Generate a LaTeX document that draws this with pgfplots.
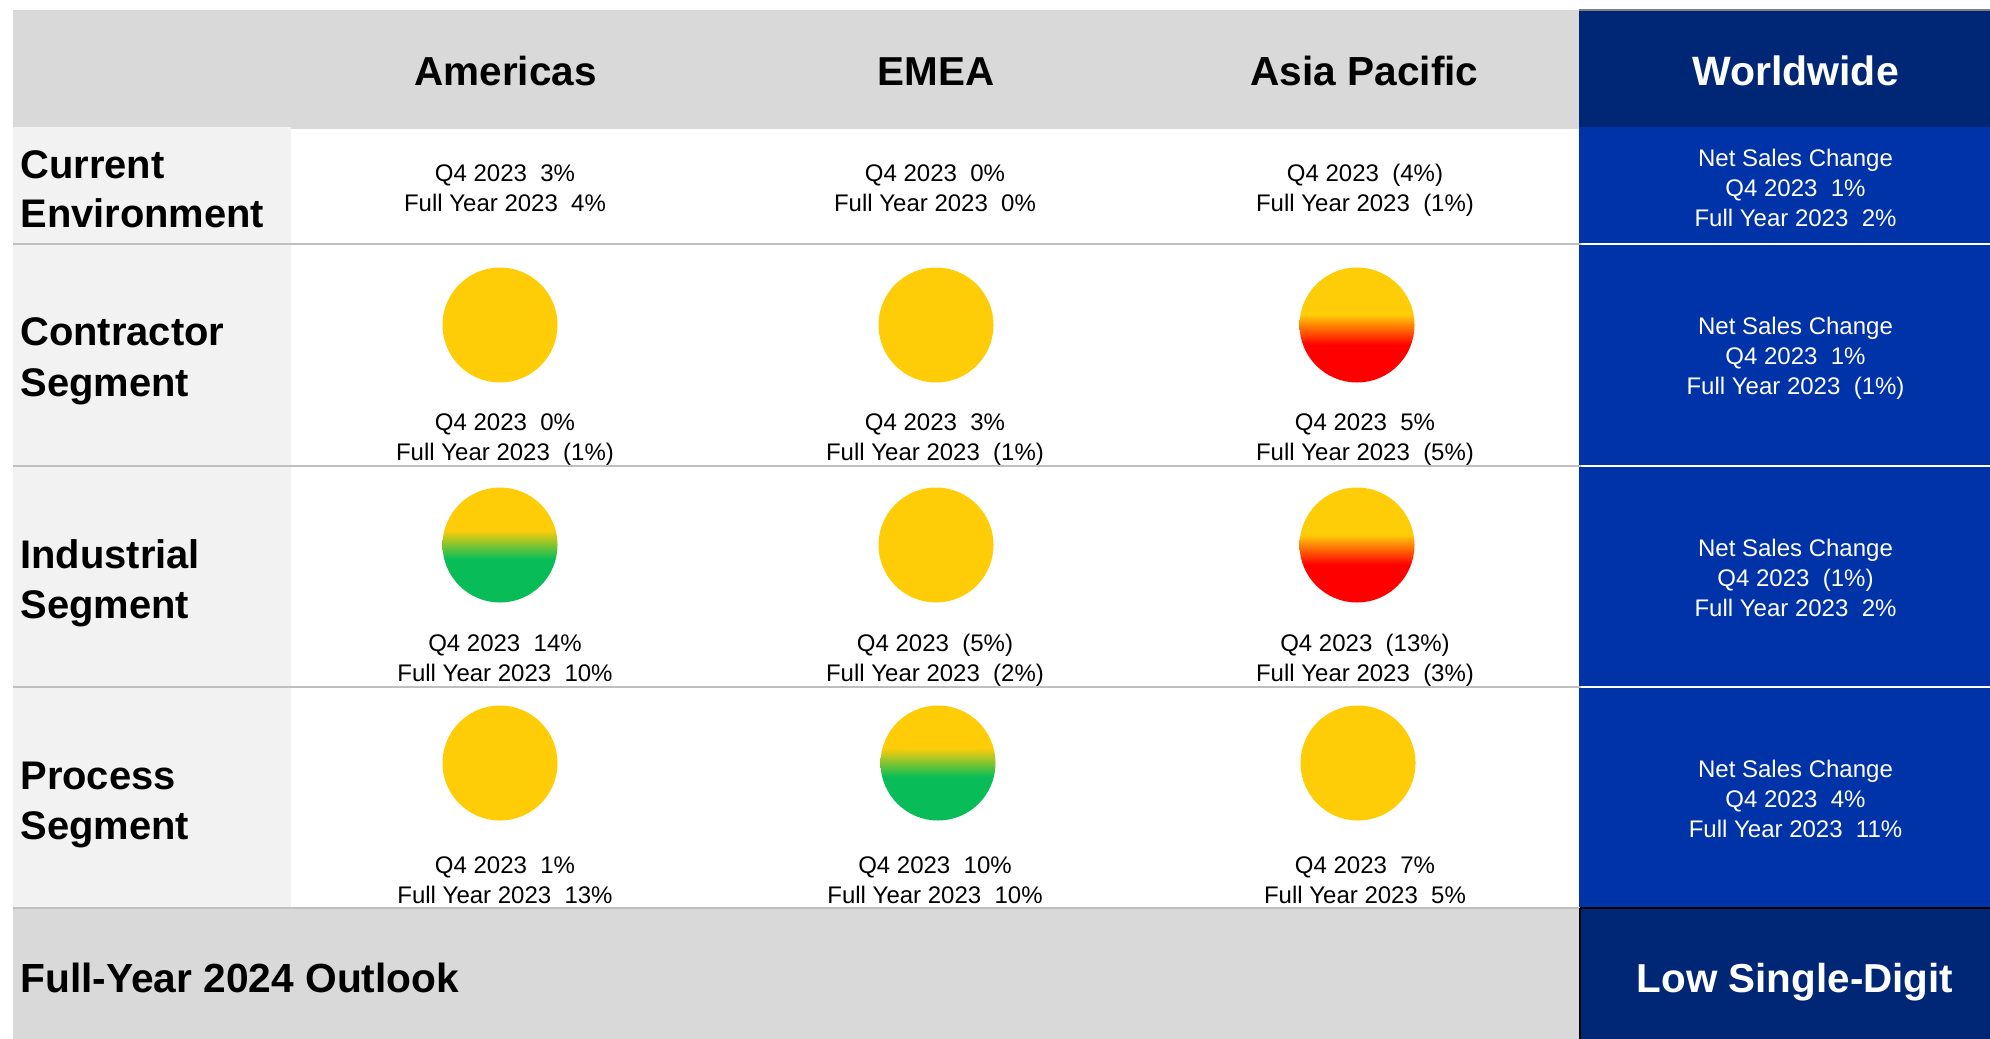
\documentclass[border=0pt]{standalone}
\usepackage{pgfplots}
\pgfplotsset{compat=1.18}
\usepackage{fontspec}
\setmainfont{Liberation Sans}

\definecolor{hdrgray}{HTML}{D9D9D9}
\definecolor{sidegray}{HTML}{F2F2F2}
\definecolor{rulegray}{HTML}{BFBFBF}
\definecolor{navy}{HTML}{002776}
\definecolor{royal}{HTML}{0032A8}
\definecolor{amber}{HTML}{FFCC08}
\definecolor{hotred}{HTML}{FF0000}
\definecolor{leaf}{HTML}{08BD58}

% the 25bp..75bp band of a shading is what lands on the disc
\pgfdeclareverticalshading{fadered}{100bp}{color(0bp)=(hotred); color(41.5bp)=(hotred); color(54.5bp)=(amber); color(100bp)=(amber)}
\pgfdeclareverticalshading{fadegreen}{100bp}{color(0bp)=(leaf); color(44bp)=(leaf); color(56.5bp)=(amber); color(100bp)=(amber)}
\pgfdeclareplotmark{discamber}{\pgfpathcircle{\pgfpointorigin}{\pgfplotmarksize}\pgfsetfillcolor{amber}\pgfusepath{fill}}
\pgfdeclareplotmark{discred}{\pgfpathcircle{\pgfpointorigin}{\pgfplotmarksize}\pgfshadepath{fadered}{0}\pgfusepath{discard}}
\pgfdeclareplotmark{discgreen}{\pgfpathcircle{\pgfpointorigin}{\pgfplotmarksize}\pgfshadepath{fadegreen}{0}\pgfusepath{discard}}

\newcommand{\head}[4]{\node[anchor=base,inner sep=0pt,font=\fontsize{#4}{25}\selectfont\bfseries,text=#3] at (axis cs:#1,86) {#2};}
\newcommand{\side}[2]{\node[anchor=base west,inner sep=0pt,font=\fontsize{19.95}{25}\selectfont\bfseries] at (axis cs:20,#1) {#2};}
\newcommand{\cell}[4]{%
  \node[anchor=base,inner sep=0pt,font=\fontsize{12}{15}\selectfont] at (axis cs:#1,#2) {Q4 2023~~#3};
  \node[anchor=base,inner sep=0pt,font=\fontsize{12}{15}\selectfont] at (axis cs:#1,#2+30) {Full Year 2023~~#4};}
\newcommand{\world}[3]{%
  \node[anchor=base,inner sep=0pt,text=white,font=\fontsize{12}{15}\selectfont] at (axis cs:1795.5,#1) {Net Sales Change};
  \node[anchor=base,inner sep=0pt,text=white,font=\fontsize{12}{15}\selectfont] at (axis cs:1795.5,#1+30) {Q4 2023~~#2};
  \node[anchor=base,inner sep=0pt,text=white,font=\fontsize{12}{15}\selectfont] at (axis cs:1795.5,#1+60) {Full Year 2023~~#3};}

\begin{document}
\begin{tikzpicture}
\path[use as bounding box] (0,0) rectangle (995pt,519pt);
\begin{axis}[
    hide axis,
    scale only axis,
    width=995pt,
    height=519pt,
    xmin=0, xmax=1990,
    ymin=0, ymax=1038,
    y dir=reverse,
    clip=false,
]
% page background and cell fills
\addplot[fill=white,draw=none] coordinates {(0,0)(1990,0)(1990,1038)(0,1038)} --cycle;
\addplot[fill=hdrgray,draw=none] coordinates {(13,10)(1579,10)(1579,128.7)(13,128.7)} --cycle;
\addplot[fill=hdrgray,draw=none] coordinates {(13,908)(1580,908)(1580,1042)(13,1042)} --cycle;
\addplot[fill=sidegray,draw=none] coordinates {(13,127)(291,127)(291,908)(13,908)} --cycle;
\addplot[fill=royal,draw=none] coordinates {(1579,127)(1992,127)(1992,908)(1579,908)} --cycle;
\addplot[fill=navy,draw=none] coordinates {(1579,10)(1992,10)(1992,127)(1579,127)} --cycle;
\addplot[fill=navy,draw=none] coordinates {(1580,908)(1992,908)(1992,1042)(1580,1042)} --cycle;
% rules
\addplot[rulegray,line width=1pt] coordinates {(13,244)(1581,244)};
\addplot[rulegray,line width=1pt] coordinates {(13,466)(1581,466)};
\addplot[rulegray,line width=1pt] coordinates {(13,687)(1581,687)};
\addplot[rulegray,line width=1pt] coordinates {(13,908)(1580,908)};
\addplot[white,line width=1pt] coordinates {(1581,244)(1992,244)};
\addplot[white,line width=1pt] coordinates {(1581,466)(1992,466)};
\addplot[white,line width=1pt] coordinates {(1581,687)(1992,687)};
\addplot[black,line width=0.65pt] coordinates {(1580,908)(1992,908)};
\addplot[black,line width=0.65pt] coordinates {(1580,908)(1580,1042)};
\addplot[black!50,line width=1pt] coordinates {(1579,10)(1992,10)};
% status discs
\addplot[only marks,mark=discamber,mark size=28.75pt] coordinates {
    (500,325) (936,325)
    (936,545)
    (500,763) (1358,763)
};
\addplot[only marks,mark=discred,mark size=28.75pt] coordinates {(1357,325) (1357,545)};
\addplot[only marks,mark=discgreen,mark size=28.75pt] coordinates {(500,545) (938,763)};
% headers
\head{505.5}{Americas}{black}{20.25}
\head{936}{EMEA}{black}{20.2}
\head{1364.5}{Asia Pacific}{black}{20.3}
\head{1795.5}{Worldwide}{white}{20.5}
% row labels
\side{178}{Current}
\side{227.5}{Environment}
\side{345}{Contractor}
\side{396}{Segment}
\side{568}{Industrial}
\side{618}{Segment}
\side{789}{Process}
\side{839}{Segment}
\node[anchor=base west,inner sep=0pt,font=\fontsize{20.35}{25}\selectfont\bfseries] at (axis cs:20,992) {Full-Year 2024 Outlook};
\node[anchor=base,inner sep=0pt,text=white,font=\fontsize{20.2}{25}\selectfont\bfseries] at (axis cs:1795,992) {Low Single-Digit};
% cells
\cell{505}{181}{3\%}{4\%}
\cell{935}{181}{0\%}{0\%}
\cell{1365}{181}{(4\%)}{(1\%)}
\cell{505}{430}{0\%}{(1\%)}
\cell{935}{430}{3\%}{(1\%)}
\cell{1365}{430}{5\%}{(5\%)}
\cell{505}{651}{14\%}{10\%}
\cell{935}{651}{(5\%)}{(2\%)}
\cell{1365}{651}{(13\%)}{(3\%)}
\cell{505}{873}{1\%}{13\%}
\cell{935}{873}{10\%}{10\%}
\cell{1365}{873}{7\%}{5\%}
\world{166}{1\%}{2\%}
\world{334}{1\%}{(1\%)}
\world{556}{(1\%)}{2\%}
\world{777}{4\%}{11\%}
\end{axis}
\end{tikzpicture}
\end{document}
